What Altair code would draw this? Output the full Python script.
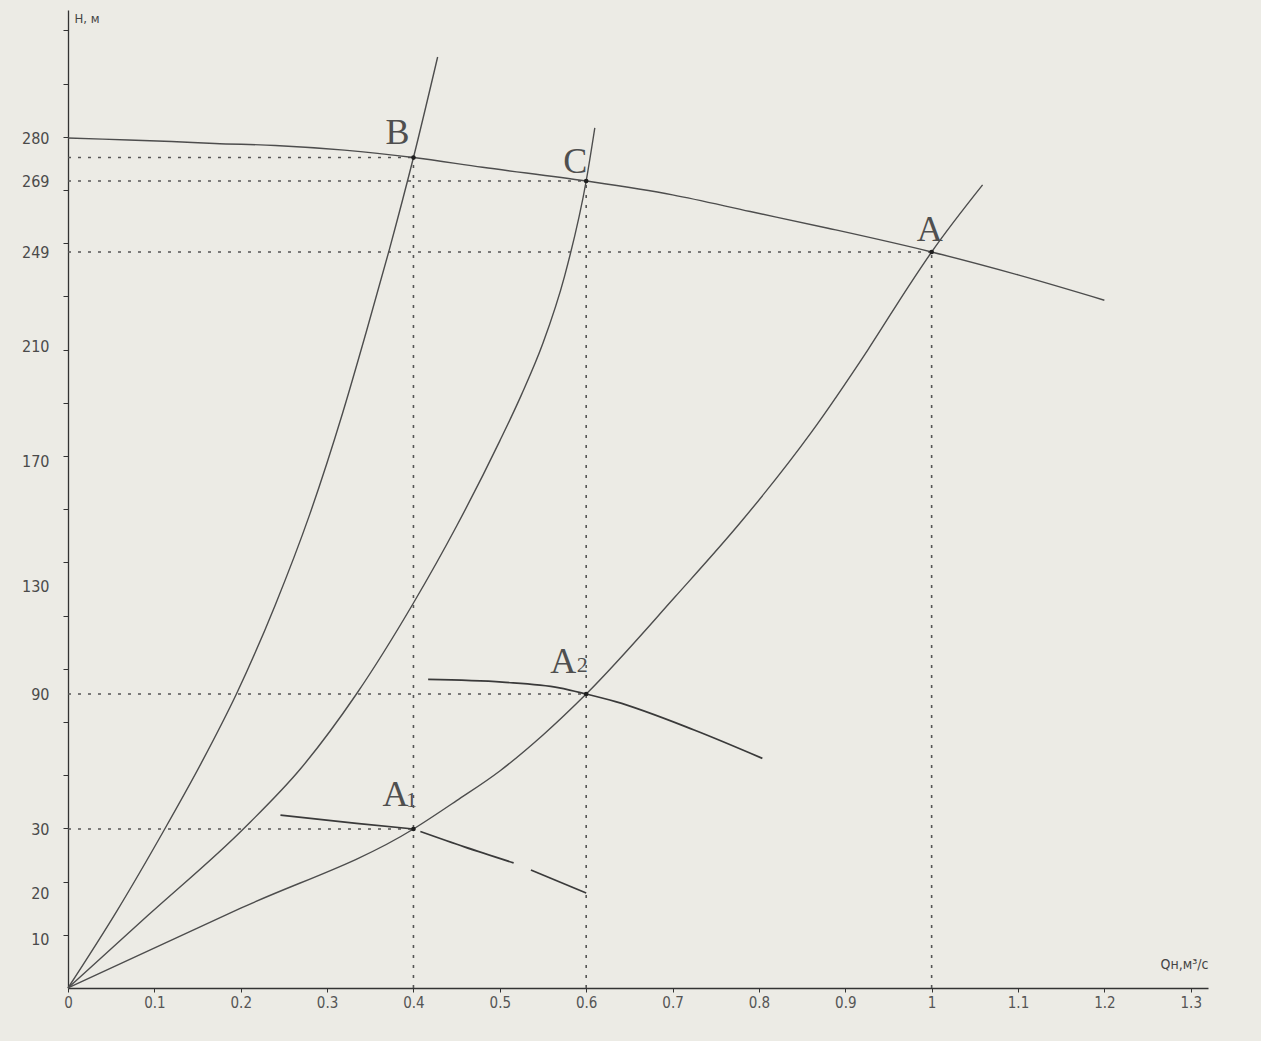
import numpy as np
import pandas as pd
import altair as alt

# ---------------- data ----------------
# pump head curve H(Q)
PUMP_Q = [0.0, 0.04, 0.12, 0.17, 0.24, 0.32, 0.40, 0.48, 0.60, 0.70, 0.79, 0.88, 1.00, 1.10, 1.20]
PUMP_H = [280.0, 279.7, 279.1, 278.6, 278.1, 276.9, 275.0, 272.5, 269.0, 265.1, 260.4, 255.7, 249.0, 239.5, 229.0]

# pipeline characteristics through B, C and A
PIPE_B_Q = [0.0, 0.056, 0.112, 0.155, 0.195, 0.24, 0.28, 0.318, 0.345, 0.372, 0.40, 0.428]
PIPE_B_H = [0.0, 15.9, 30.0, 59.8, 90.0, 123.0, 153.0, 186.7, 215.4, 249.6, 275.0, 300.7]
PIPE_C_Q = [0.0, 0.093, 0.203, 0.27, 0.334, 0.40, 0.45, 0.50, 0.525, 0.55, 0.575, 0.60, 0.61]
PIPE_C_H = [0.0, 15.2, 30.0, 57.1, 90.0, 123.7, 149.2, 177.0, 193.0, 211.2, 239.0, 269.0, 282.6]
PIPE_A_Q = [0.0, 0.20, 0.40, 0.45, 0.50, 0.55, 0.60, 0.703, 0.781, 0.86, 0.926, 0.975, 1.00, 1.059]
PIPE_A_H = [0.0, 16.7, 30.0, 42.6, 55.8, 71.8, 90.0, 126.0, 151.1, 179.7, 208.6, 235.7, 249.0, 267.9]

# reduced-speed pump curves through A1 and A2 (A1 curve drawn in three pieces)
A1_Q = [0.246, 0.334, 0.40, 0.408, 0.459, 0.516, 0.536, 0.60]
A1_H = [36.2, 32.5, 30.0, 29.6, 27.2, 24.7, 23.6, 20.0]
A1_PIECE = [0, 0, 0, 1, 1, 1, 2, 2]
A2_Q = [0.417, 0.503, 0.569, 0.60, 0.634, 0.725, 0.804]
A2_H = [95.4, 94.4, 92.3, 90.0, 86.6, 74.0, 61.4]

# operating points
POINT_NAME = ["B", "C", "A", "A1", "A2"]
POINT_Q = [0.4, 0.6, 1.0, 0.4, 0.6]
POINT_H = [275.0, 269.0, 249.0, 30.0, 90.0]

# axis labels
X_TICKS = [0, 0.1, 0.2, 0.3, 0.4, 0.5, 0.6, 0.7, 0.8, 0.9, 1, 1.1, 1.2, 1.3]
Y_LABELS = [10, 20, 30, 90, 130, 170, 210, 249, 269, 280]

# ---------------- layout ----------------
W, HGT = 1140, 978
X_MAX = 1.32
# hand-graduated H axis: each label sits at its own height (piecewise scale)
Y_DOMAIN = [0] + Y_LABELS + [312.7]
Y_RANGE = [978, 929, 883, 819, 684, 576, 451, 336, 242, 171, 128, 0]
# evenly spaced tick marks along the H axis
TICK_STEP = 53.2
tick_px = [HGT - k * TICK_STEP for k in range(1, 19)]
tick_h = np.interp(tick_px, Y_RANGE[::-1], Y_DOMAIN[::-1])
Y_AXIS_VALUES = sorted(set(float(v) for v in Y_LABELS) | set(round(float(v), 3) for v in tick_h))

INK = "#4d4d4d"
AXIS_INK = "#333333"
NARROW = "Liberation Sans Narrow, DejaVu Sans Condensed, Roboto Condensed, Liberation Sans, sans-serif"
SERIF = "Liberation Serif, DejaVu Serif, serif"

label_list = ",".join(str(v) for v in Y_LABELS)

x_scale = alt.Scale(domain=[0, X_MAX], nice=False, zero=False)
y_scale = alt.Scale(domain=Y_DOMAIN, range=Y_RANGE, nice=False, zero=False)

x_axis = alt.Axis(
    values=X_TICKS, format="~g", title="Qн,м³/с", grid=False,
    domainColor=AXIS_INK, tickColor=AXIS_INK, tickSize=4, domainWidth=1.3,
    labelPadding=3, labelFont=NARROW, labelFontSize=15, labelColor="#555555",
    labelFlush=False, labelOverlap=False,
    titleFont=NARROW, titleFontSize=14, titleFontWeight="normal", titleColor="#444444",
    titleX=1092, titleY=-24, titleAlign="left", titleBaseline="middle",
)
y_axis = alt.Axis(
    values=Y_AXIS_VALUES,
    labelExpr=f"indexof([{label_list}], datum.value) >= 0 ? '' + datum.value : ''",
    tickOpacity={"condition": {"test": f"indexof([{label_list}], datum.value) >= 0", "value": 0}, "value": 1},
    title="H, м", titleAngle=0, titleX=6, titleY=8, titleAlign="left", titleBaseline="middle",
    titleFont=NARROW, titleFontSize=13, titleFontWeight="normal", titleColor="#444444",
    grid=False, domainColor=AXIS_INK, tickColor=AXIS_INK, tickSize=5, domainWidth=1.3,
    labelPadding=14, labelFont=NARROW, labelFontSize=16, labelColor="#4a4a4a",
    labelOverlap=False, labelFlush=False,
)


def xq(field="Q"):
    return alt.X(f"{field}:Q", scale=x_scale, axis=x_axis)


def yq(field="H"):
    return alt.Y(f"{field}:Q", scale=y_scale, axis=y_axis)


# ---------------- tables ----------------
main_curves = pd.concat([
    pd.DataFrame({"Q": PUMP_Q, "H": PUMP_H, "curve": "pump"}),
    pd.DataFrame({"Q": PIPE_B_Q, "H": PIPE_B_H, "curve": "pipe B"}),
    pd.DataFrame({"Q": PIPE_C_Q, "H": PIPE_C_H, "curve": "pipe C"}),
    pd.DataFrame({"Q": PIPE_A_Q, "H": PIPE_A_H, "curve": "pipe A"}),
], ignore_index=True)

short_curves = pd.concat([
    pd.DataFrame({"Q": A1_Q, "H": A1_H, "curve": [f"A1-{p}" for p in A1_PIECE]}),
    pd.DataFrame({"Q": A2_Q, "H": A2_H, "curve": "A2"}),
], ignore_index=True)

points = pd.DataFrame({"name": POINT_NAME, "Q": POINT_Q, "H": POINT_H})

# ---------------- layers ----------------
lines = alt.Chart(main_curves).mark_line(
    color=INK, strokeWidth=1.4, interpolate="monotone"
).encode(x=xq(), y=yq(), detail="curve:N")

short_lines = alt.Chart(short_curves).mark_line(
    color="#3a3a3a", strokeWidth=1.7, interpolate="monotone"
).encode(x=xq(), y=yq(), detail="curve:N")

# dotted leaders from the axes to each operating point
guide_h = alt.Chart(points).transform_calculate(Q0="0").mark_rule(
    color="#555555", strokeWidth=1.6, strokeDash=[3, 7]
).encode(x=xq("Q0"), x2="Q:Q", y=yq())

guide_v = alt.Chart(points).transform_filter(
    alt.FieldOneOfPredicate(field="name", oneOf=["B", "C", "A"])
).transform_calculate(H0="0").mark_rule(
    color="#555555", strokeWidth=1.6, strokeDash=[3, 7]
).encode(x=xq(), y=yq("H0"), y2="H:Q")

dots = alt.Chart(points).mark_point(
    filled=True, size=22, color="#1f1f1f", opacity=1
).encode(x=xq(), y=yq())

# point captions: letter and small index, offsets in pixels from the point
CAPTIONS = [
    ("B", "B", -16, -25, 36),
    ("C", "C", -11, -19, 36),
    ("A", "A", -2, -22, 36),
    ("A1", "A", -18, -34, 36),
    ("A1", "1", -2, -29, 22),
    ("A2", "A", -23, -32, 36),
    ("A2", "2", -4, -29, 22),
]
caption_layers = []
for name, txt, dx, dy, size in CAPTIONS:
    caption_layers.append(
        alt.Chart(points).transform_filter(alt.datum.name == name).mark_text(
            text=txt, dx=dx, dy=dy, fontSize=size, font=SERIF, color="#4f4f4f",
            align="center", baseline="middle",
        ).encode(x=xq(), y=yq())
    )

chart = alt.layer(
    guide_h, guide_v, lines, short_lines, dots, *caption_layers
).properties(
    width=W, height=HGT,
    background="#ecebe5",
    padding={"left": 68, "top": 10, "right": 53, "bottom": 53},
    autosize=alt.AutoSizeParams(type="none"),
).configure_view(stroke=None)

chart.save("out.html", embed_options={"renderer": "svg", "actions": False})
